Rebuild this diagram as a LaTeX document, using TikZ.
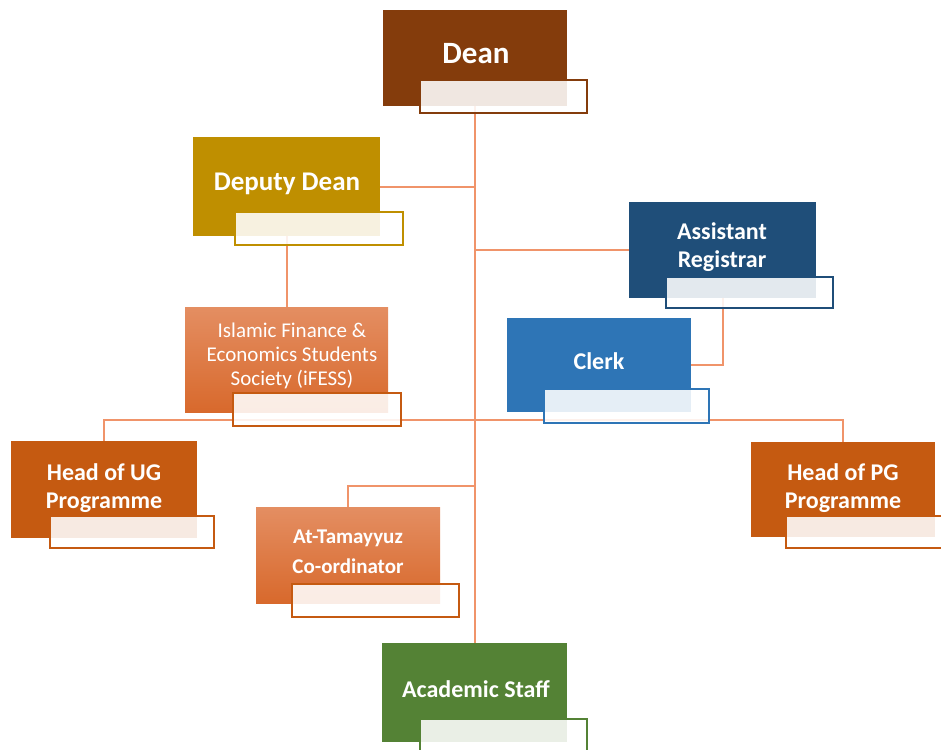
\documentclass[tikz,border=0pt]{standalone}
\usepackage{fontspec}
\setmainfont{Carlito}
\definecolor{cdean}{HTML}{843C0C}
\definecolor{cdeputy}{HTML}{BF8F00}
\definecolor{car}{HTML}{1F4E79}
\definecolor{cclerk}{HTML}{2E75B6}
\definecolor{chead}{HTML}{C55A11}
\definecolor{cstaff}{HTML}{548235}
\definecolor{gtop}{HTML}{E48E62}
\definecolor{gbot}{HTML}{D8692C}
\definecolor{cline}{HTML}{F0946A}
\begin{document}
\begin{tikzpicture}[x=1pt,y=-1pt,
  mainbox/.style={rectangle,inner sep=0pt,outer sep=0pt},
  subbox/.style={rectangle,inner sep=0pt,outer sep=0pt,draw=#1,line width=1.5pt,fill=white,fill opacity=0.88,draw opacity=1},
  lbl/.style={text=white,align=center,font=\bfseries\fontsize{24}{28}\selectfont},
  conn/.style={draw=cline,line width=2pt}]
\clip (0,0) rectangle (941,749);
\useasboundingbox (0,0) rectangle (941,749);
% main boxes
\node[mainbox,fill=cdean,minimum width=184pt,minimum height=96pt] (dean) at (475,58) {};
\node[mainbox,fill=cdeputy,minimum width=187pt,minimum height=99pt] (deputy) at (286.5,186.5) {};
\node[mainbox,top color=gtop,bottom color=gbot,minimum width=203pt,minimum height=105pt] (ifess) at (286.5,359.5) {};
\node[mainbox,fill=car,minimum width=187pt,minimum height=96pt] (ar) at (722.5,250) {};
\node[mainbox,fill=cclerk,minimum width=184pt,minimum height=94pt] (clerk) at (599,365) {};
\node[mainbox,fill=chead,minimum width=186pt,minimum height=97pt] (ug) at (104,489.5) {};
\node[mainbox,fill=chead,minimum width=184pt,minimum height=95pt] (pg) at (843,489.5) {};
\node[mainbox,top color=gtop,bottom color=gbot,minimum width=184pt,minimum height=96pt] (tam) at (348,555) {};
\node[mainbox,fill=cstaff,minimum width=185pt,minimum height=99pt] (staff) at (474.5,692.5) {};
% connectors
\coordinate (bus) at (475,420);
\coordinate (tb) at (475,486);
\begin{scope}
\draw[conn] (dean.center |- dean.south) -- (dean.center |- staff.north);
\draw[conn] (deputy.east) -- (deputy.east -| dean.center);
\draw[conn] (ar.west) -- (ar.west -| dean.center);
\draw[conn] (deputy.south) -- (ifess.north);
\draw[conn] (ar.center |- ar.south) -- (ar.center |- clerk.east) -- (clerk.east);
\draw[conn] (ug.north) -- (ug.north |- bus) -- (pg.north |- bus) -- (pg.north);
\draw[conn] (tam.north) -- (tam.north |- tb) -- (tb);
\end{scope}
% sub boxes
\node[subbox=cdean,minimum width=167pt,minimum height=33pt] (deansub) at (503.5,96.5) {};
\node[subbox=cdeputy,minimum width=168pt,minimum height=33pt] (deputysub) at (319,228.5) {};
\node[subbox=chead,minimum width=168pt,minimum height=33pt] (ifesssub) at (317,409.5) {};
\node[subbox=car,minimum width=167pt,minimum height=31pt] (arsub) at (749.5,292.5) {};
\node[subbox=cclerk,minimum width=165pt,minimum height=34pt] (clerksub) at (626.5,406) {};
\node[subbox=chead,minimum width=164pt,minimum height=32pt] (ugsub) at (132,532) {};
\node[subbox=chead,minimum width=165pt,minimum height=32pt] (pgsub) at (868.5,532) {};
\node[subbox=chead,minimum width=167pt,minimum height=33pt] (tamsub) at (375.5,600.5) {};
\node[subbox=cstaff,minimum width=167pt,minimum height=33pt] (staffsub) at (503.5,735.5) {};
% labels
\node[lbl,font=\bfseries\fontsize{31}{36}\selectfont] (deant) at (476,54) {Dean};
\node[lbl,font=\bfseries\fontsize{27}{32}\selectfont] (deputyt) at (287,184) {Deputy Dean};
\node[lbl,font=\fontsize{21}{24}\selectfont] (ifesst) at (292,356) {Islamic Finance \&\\Economics Students\\Society (iFESS)};
\node[lbl] (art) at (722,247) {Assistant\\Registrar};
\node[lbl] (clerkt) at (599,361) {Clerk};
\node[lbl] (ugt) at (104,488) {Head of UG\\Programme};
\node[lbl] (pgt) at (843,488) {Head of PG\\Programme};
\node[lbl,font=\bfseries\fontsize{21}{29.5}\selectfont] (tamt) at (348,552) {At-Tamayyuz\\Co-ordinator};
\node[lbl] (stafft) at (476,689) {Academic Staff};
\end{tikzpicture}
\end{document}
